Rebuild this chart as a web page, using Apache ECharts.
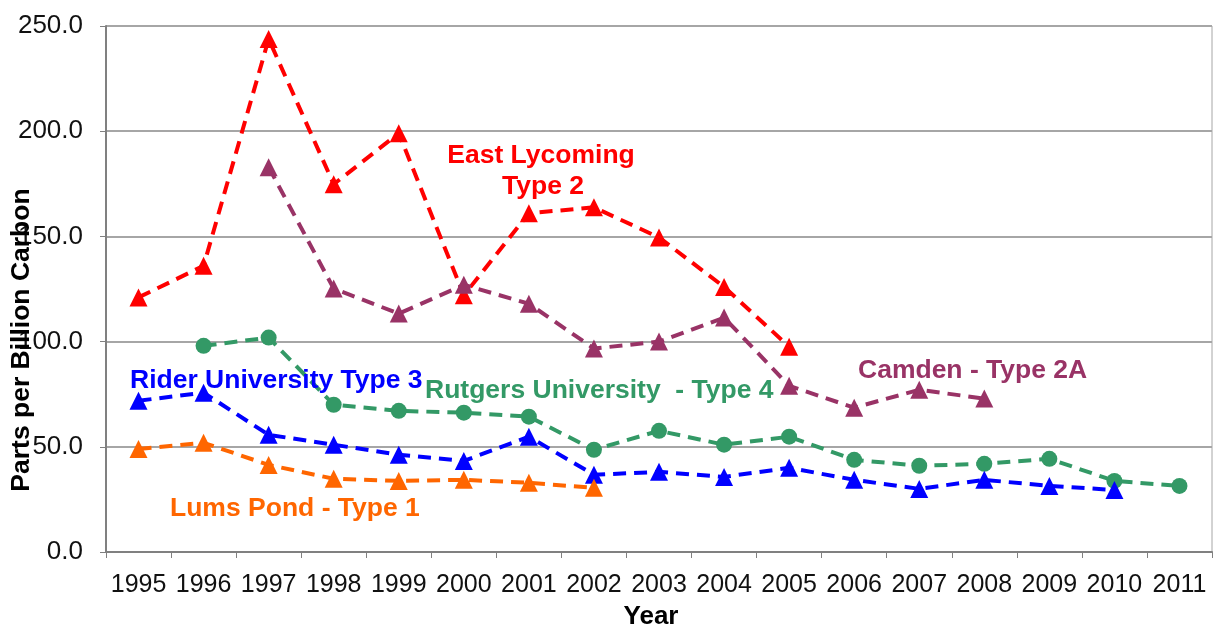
<!DOCTYPE html>
<html>
<head>
<meta charset="utf-8">
<script src="https://cdn.jsdelivr.net/npm/echarts@6/dist/echarts.min.js"></script>
<style>
  html, body { margin: 0; padding: 0; background: #fff; }
  #chart { width: 1215px; height: 627px; }
</style>
</head>
<body>
<div id="chart"></div>
<script>
var years = ['1995', '1996', '1997', '1998', '1999', '2000', '2001', '2002', '2003',
  '2004', '2005', '2006', '2007', '2008', '2009', '2010', '2011'];

var eastLycoming = [121, 136, 243.8, 174.8, 199, 122, 161, 163.8, 149.5, 126, 97.6,
  null, null, null, null, null, null];
var camden = [null, null, 182.9, 125.2, 113.3, 127, 118, 96.7, 100, 111.4, 79, 68.6,
  77.1, 72.9, null, null, null];
var rutgers = [null, 98, 101.9, 70, 67.1, 66.2, 64.3, 48.6, 57.6, 51, 54.8, 43.8, 41,
  41.9, 44.3, 33.8, 31.4];
var rider = [71.9, 75.7, 55.7, 51, 46.2, 43.3, 54.8, 36.7, 38.1, 35.7, 40, 34.3, 30,
  34.3, 31.4, 29.5, null];
var lumsPond = [49, 51.9, 41.4, 34.8, 33.8, 34.3, 32.9, 30.5, null, null, null, null,
  null, null, null, null, null];

function renderChart(chartID) {
  var echarts = window.echarts;
  var chartDom = document.getElementById(chartID);
  var myChart = echarts.init(chartDom);
  var font = 'Liberation Sans, Arial, sans-serif';

  function lineSeries(name, data, color, symbol, size) {
    return {
      name: name,
      type: 'line',
      data: data,
      symbol: symbol,
      symbolSize: size,
      connectNulls: false,
      itemStyle: { color: color },
      lineStyle: { color: color, width: 4, type: [13, 8] },
      z: 3
    };
  }

  // free text placed on the chart
  function label(text, x, y, color, size, align, rot) {
    return {
      type: 'text',
      x: x,
      y: y,
      rotation: rot || 0,
      style: {
        text: text,
        fill: color,
        font: 'bold ' + size + 'px ' + font,
        textAlign: align || 'left',
        textVerticalAlign: 'middle'
      },
      z: 10
    };
  }

  var option = {
    animation: false,
    grid: {
      left: 106, right: 3, top: 26, bottom: 75,
      outerBoundsMode: 'none',
      containLabel: false,
      show: true, borderColor: '#a6a6a6', borderWidth: 1
    },
    xAxis: {
      type: 'category',
      data: years,
      boundaryGap: true,
      axisLine: { lineStyle: { color: '#808080', width: 2 } },
      axisTick: { show: true, interval: 0, length: 6, lineStyle: { color: '#808080', width: 1 } },
      axisLabel: { interval: 0, fontFamily: font, fontSize: 25, color: '#111', margin: 21 }
    },
    yAxis: {
      type: 'value',
      min: 0,
      max: 250,
      interval: 50,
      axisLine: { show: true, lineStyle: { color: '#808080', width: 2 } },
      axisTick: { show: true, length: 6, lineStyle: { color: '#808080' } },
      axisLabel: {
        fontFamily: font, fontSize: 26, color: '#111', margin: 23,
        formatter: function (v) { return v.toFixed(1); }
      },
      splitLine: { lineStyle: { color: '#a6a6a6', width: 2 } }
    },
    graphic: [
      label('Parts per Billion Carbon', 22, 340, '#000', 26.5, 'center', Math.PI / 2),
      label('Year', 651, 617, '#000', 26, 'center'),
      label('East Lycoming', 541, 156, '#ff0000', 26.5, 'center'),
      label('Type 2', 543, 187, '#ff0000', 26.5, 'center'),
      label('Rider University Type 3', 130, 381, '#0000ff', 26.5),
      label('Rutgers University  - Type 4', 425, 391, '#339966', 26.5),
      label('Camden - Type 2A', 858, 371, '#993366', 26.5),
      label('Lums Pond - Type 1', 170, 509, '#ff6600', 26.5)
    ],
    series: [
      lineSeries('East Lycoming Type 2', eastLycoming, '#ff0000', 'triangle', 18),
      lineSeries('Camden - Type 2A', camden, '#993366', 'triangle', 18),
      lineSeries('Rutgers University - Type 4', rutgers, '#339966', 'circle', 16),
      lineSeries('Rider University Type 3', rider, '#0000ff', 'triangle', 18),
      lineSeries('Lums Pond - Type 1', lumsPond, '#ff6600', 'triangle', 18)
    ]
  };

  option && myChart.setOption(option);
}

renderChart('chart');
</script>
</body>
</html>
